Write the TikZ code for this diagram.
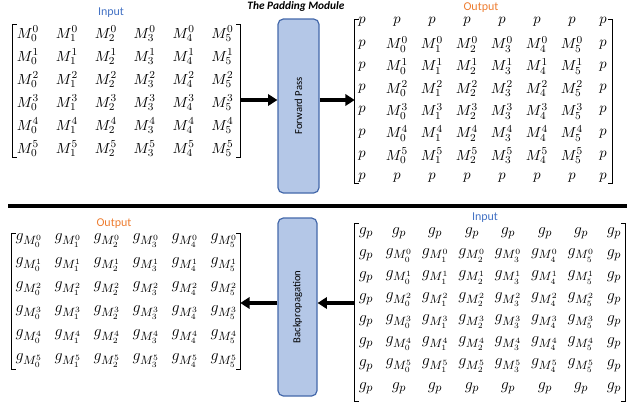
\documentclass[tikz,border=0pt]{standalone}
\usepackage{fontspec}
\setmainfont{Carlito}
\usetikzlibrary{arrows.meta}
\definecolor{boxfill}{RGB}{180,199,231}
\definecolor{boxdraw}{RGB}{68,104,170}
\definecolor{inblue}{RGB}{68,114,196}
\definecolor{outorange}{RGB}{237,125,49}
\newcommand\drawbrackets[1]{%
  \draw[brk] ([xshift=3pt]#1.north west) -- (#1.north west) -- (#1.south west) -- ([xshift=3pt]#1.south west);
  \draw[brk] ([xshift=-3pt]#1.north east) -- (#1.north east) -- (#1.south east) -- ([xshift=-3pt]#1.south east);}
\begin{document}
\begin{tikzpicture}[x=0.75pt,y=-0.75pt,
  ent/.style={inner sep=0pt, font=\fontsize{11}{13}\selectfont},
  gent/.style={inner sep=0pt, font=\fontsize{13}{15}\selectfont},
  mat/.style={inner sep=0pt, draw=none, rectangle},
  brk/.style={line width=0.9pt},
  arr/.style={line width=2.4pt, -{Triangle[length=7pt,width=8.5pt]}},
  modbox/.style={draw=boxdraw, fill=boxfill, line width=0.9pt, rounded corners=4pt,
     rotate=90, font=\fontsize{8}{10}\selectfont, inner sep=0pt},
  lab/.style={inner sep=0pt, font=\fontsize{9}{11}\selectfont},
]
\useasboundingbox (0,0) rectangle (640,419);

% title
\node[inner sep=0pt, font=\bfseries\itshape\fontsize{8.5}{10}\selectfont] (title) at (296,6) {The Padding Module};

% ---------- top: forward pass ----------
\node[lab, text=inblue] (inlab1) at (111,13) {Input};
\node[mat, minimum width=170.25pt, minimum height=99pt] (inL) at (126.5,91) {};
\drawbrackets{inL}
\foreach \r in {0,...,5} \foreach \c in {0,...,5} {
  \node[ent] (a-\r-\c) at ({28+38.9*\c},{34+23*\r}) {$M_{\c}^{\r}$};
}

\node[modbox, minimum width=130.5pt, minimum height=30.75pt] (fwd) at (298.5,106) {Forward Pass};

\node[lab, text=outorange] (outlab1) at (481,8) {Output};
\node[mat, minimum width=192.75pt, minimum height=122.25pt] (outR) at (483.5,101.5) {};
\drawbrackets{outR}
\foreach \c/\x in {0/362,1/397,2/432,3/467,4/502,5/537,6/572,7/603} {
  \node[ent] (b-0-\c) at (\x,22) {$p$};
  \node[ent] (b-7-\c) at (\x,178) {$p$};
}
\foreach \r in {1,...,6} {
  \pgfmathsetmacro\yy{22+22.3*\r}
  \node[ent] (b-\r-0) at (362,\yy) {$p$};
  \node[ent] (b-\r-7) at (603,\yy) {$p$};
}
\foreach \r in {0,...,5} \foreach \c in {0,...,5} {
  \node[ent] (b-in-\r-\c) at ({397+35*\c},{44.3+22.3*\r}) {$M_{\c}^{\r}$};
}

\coordinate (ya) at (0,100);
\draw[arr] (inL.east |- ya) -- (fwd.north |- ya);
\draw[arr] (fwd.south |- ya) -- (outR.west |- ya);

% separator
\coordinate (sepL) at (8,206);
\coordinate (sepR) at (627,206);
\draw[line width=3pt] (sepL) -- (sepR);

% ---------- bottom: backpropagation ----------
\node[lab, text=outorange] (outlab2) at (114,224) {Output};
\node[mat, minimum width=171pt, minimum height=101.25pt] (gL) at (126,301.5) {};
\drawbrackets{gL}
\foreach \r in {0,...,5} \foreach \c in {0,...,5} {
  \node[gent] (c-\r-\c) at ({29+39*\c},{241+24*\r}) {$g_{M_{\c}^{\r}}$};
}

\node[modbox, minimum width=133.5pt, minimum height=29.25pt] (bwd) at (297.5,307) {Backpropagation};

\node[lab, text=inblue] (inlab2) at (485,218) {Input};
\node[mat, minimum width=202.5pt, minimum height=132.75pt] (gR) at (490,312.5) {};
\drawbrackets{gR}
\foreach \c/\x in {0/366,1/399,2/435,3/472,4/508,5/545,6/581,7/614} {
  \node[gent] (d-0-\c) at (\x,233) {$g_p$};
  \node[gent] (d-7-\c) at (\x,388) {$g_p$};
}
\foreach \r in {1,...,6} {
  \pgfmathsetmacro\yy{233+22.1*\r}
  \node[gent] (d-\r-0) at (366,\yy) {$g_p$};
  \node[gent] (d-\r-7) at (614,\yy) {$g_p$};
}
\foreach \r in {0,...,5} \foreach \c in {0,...,5} {
  \node[gent] (d-in-\r-\c) at ({399+36.4*\c},{255.1+22.1*\r}) {$g_{M_{\c}^{\r}}$};
}

\coordinate (yb) at (0,303);
\draw[arr] (gR.west |- yb) -- (bwd.south |- yb);
\draw[arr] (bwd.north |- yb) -- (gL.east |- yb);
\end{tikzpicture}
\end{document}
